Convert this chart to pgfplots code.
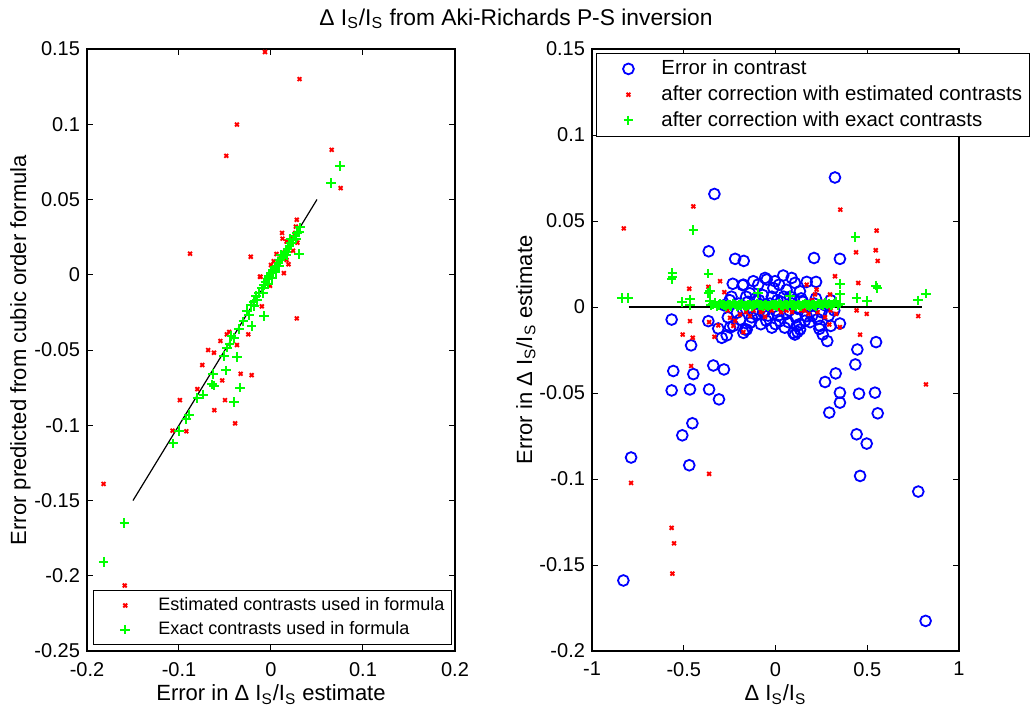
\documentclass[border=0pt]{standalone}
\usepackage{pgfplots}
\pgfplotsset{compat=1.18}
\usepackage{fontspec}
\setmainfont{Liberation Sans}
\begin{document}
\begin{tikzpicture}
\useasboundingbox (0,0) rectangle (516pt,359.5pt);
\pgfplotsset{
  every axis/.append style={
    scale only axis,
    height=301pt,
    tick label style={font=\fontsize{10}{11}\selectfont},
    xticklabel style={yshift=-2pt},
    label style={font=\fontsize{11}{13}\selectfont},
    xlabel style={yshift=2.5pt},
    tick style={black, line width=0.5pt},
    major tick length=3pt,
    axis line style={line width=0.6pt},
    legend style={draw=black, fill=white, cells={anchor=west}, row sep=0pt, inner sep=1.5pt},
    legend cell align=left,
  },
  redx/.style={only marks, mark=x, mark size=1.35pt, color=red, line width=0.95pt},
  greenp/.style={only marks, mark=+, mark size=2.4pt, color={rgb,255:red,0;green,255;blue,0}, line width=1pt},
  blueo/.style={only marks, mark=o, mark size=2.7pt, color=blue, line width=0.9pt},
}
\node[font=\fontsize{11.4}{13}\selectfont] at (258pt,350pt) {Δ I\textsubscript{S}/I\textsubscript{S} from Aki-Richards P-S inversion};

% ---------------- left axis ----------------
\begin{axis}[
  at={(43.5pt,34pt)}, anchor=south west,
  width=184pt,
  xmin=-0.2, xmax=0.2, ymin=-0.25, ymax=0.15,
  xtick={-0.2,-0.1,0,0.1,0.2},
  xticklabels={-0.2,-0.1,0,0.1,0.2},
  ytick={-0.25,-0.2,-0.15,-0.1,-0.05,0,0.05,0.1,0.15},
  yticklabels={-0.25,-0.2,-0.15,-0.1,-0.05,0,0.05,0.1,0.15},
  xlabel={Error in Δ I\textsubscript{S}/I\textsubscript{S} estimate},
  ylabel={Error predicted from cubic order formula},
  ylabel style={yshift=-5pt},
  legend style={at={(0.016,0.01)}, anchor=south west, font=\fontsize{9}{10.5}\selectfont},
  legend image code/.code={\path (0pt,0pt) (28pt,0pt); \draw[#1] plot coordinates {(14pt,0pt)};},
]
\addplot[redx] coordinates {
(-0.0065,0.148) (0.031,0.130) (-0.037,0.0998) (-0.0486,0.079) (0.066,0.083) (0.0757,0.0576)
(0.028,0.0365) (0.027,0.032) (0.0265,0.0278) (0.012,0.0278) (0.0125,0.024) (0.017,0.022)
(0.0287,0.0213) (-0.088,0.014) (-0.022,0.012) (0.017,0.0098) (0.014,0.0011) (0.028,-0.029)
(-0.0113,-0.0013) (-0.001,-0.0073) (-0.010,-0.021) (-0.0247,-0.0396) (-0.037,-0.0467)
(-0.0455,-0.038) (-0.048,-0.0396) (-0.055,-0.044) (-0.0683,-0.050) (-0.062,-0.0518)
(-0.0747,-0.060) (-0.033,-0.0658) (-0.021,-0.0667) (-0.053,-0.0702) (-0.080,-0.076)
(-0.099,-0.0833) (-0.050,-0.0833) (-0.0616,-0.090) (-0.039,-0.0987) (-0.107,-0.1036)
(-0.092,-0.104) (-0.182,-0.139) (-0.159,-0.2065)
(0.0,0.0065) (-0.012,-0.0013) (0.006,0.0138) (0.019,0.007) (0.010,0.012) (0.020,0.018)
(0.015,0.015) (0.005,0.004) (0.022,0.025) (0.003,0.009) (0.024,0.016)
};
\addlegendentry{Estimated contrasts used in formula}
\addplot[greenp] coordinates {
(0.0747,0.0722) (0.065,0.061) (0.0304,0.0138) (0.0308,0.0285) (-0.0076,-0.0273)
(-0.021,-0.034) (-0.037,-0.0547) (-0.049,-0.0636) (-0.062,-0.0736) (-0.0337,-0.075)
(-0.040,-0.0847) (-0.0735,-0.0796) (-0.089,-0.0929) (-0.100,-0.104) (-0.106,-0.112)
(-0.1594,-0.165) (-0.182,-0.1907)
(-0.043,-0.0407) (-0.048,-0.0484) (-0.051,-0.054) (-0.063,-0.066) (-0.064,-0.0729)
(-0.080,-0.082) (-0.092,-0.096) (-0.040,-0.042) (-0.045,-0.046)
(-0.026,-0.024) (-0.022,-0.020) (-0.019,-0.018) (-0.016,-0.014) (-0.013,-0.012)
(-0.010,-0.009) (-0.008,-0.007) (-0.006,-0.005) (-0.004,-0.003) (-0.002,-0.001)
(0.000,0.001) (0.002,0.003) (0.004,0.005) (0.006,0.006) (0.008,0.008) (0.010,0.010)
(0.012,0.011) (0.014,0.013) (0.016,0.015) (0.018,0.017) (0.020,0.019) (0.022,0.021)
(0.024,0.023) (0.026,0.026) (0.028,0.028) (0.0315,0.0315) (-0.015,-0.017) (0.005,0.002)
(-0.003,-0.006) (0.011,0.013) (-0.024,-0.027) (-0.018,-0.021) (-0.009,-0.012) (0.001,-0.002)
(0.009,0.006) (0.017,0.013) (0.021,0.024) (0.027,0.024) (-0.030,-0.031) (-0.035,-0.036)
};
\addlegendentry{Exact contrasts used in formula}
\addplot[black, line width=0.6pt, forget plot] coordinates {(-0.15,-0.15) (0.05,0.05)};
\end{axis}

% ---------------- right axis ----------------
\begin{axis}[
  at={(296pt,34pt)}, anchor=south west,
  width=183.5pt,
  xmin=-1, xmax=1, ymin=-0.2, ymax=0.15,
  xtick={-1,-0.5,0,0.5,1},
  xticklabels={-1,-0.5,0,0.5,1},
  ytick={-0.2,-0.15,-0.1,-0.05,0,0.05,0.1,0.15},
  yticklabels={-0.2,-0.15,-0.1,-0.05,0,0.05,0.1,0.15},
  xlabel={Δ I\textsubscript{S}/I\textsubscript{S}},
  ylabel={Error in Δ I\textsubscript{S}/I\textsubscript{S} estimate},
  ylabel style={yshift=-5pt},
  legend style={at={(0.011,0.994)}, anchor=north west, font=\fontsize{10.2}{12}\selectfont},
  legend image code/.code={\path (0pt,0pt) (28pt,0pt); \draw[#1] plot coordinates {(14pt,0pt)};},
]
\addplot[blueo] coordinates {
(-0.333,0.0657) (-0.364,0.0324) (-0.22,0.028) (-0.173,0.0268) (0.324,0.0753) (0.21,0.0285)
(0.351,0.028) (-0.233,0.0135) (-0.179,0.0127) (-0.566,-0.0073) (-0.366,-0.0082)
(-0.312,-0.0125) (-0.46,-0.0223) (-0.557,-0.0372) (-0.448,-0.039) (-0.339,-0.034)
(-0.281,-0.0363) (-0.566,-0.0485) (-0.466,-0.0479) (-0.362,-0.0479) (-0.308,-0.0537)
(-0.453,-0.0676) (-0.508,-0.0746) (-0.248,-0.0119) (-0.293,-0.0179) (-0.266,-0.0165)
(-0.193,-0.0073) (-0.166,-0.0131) (-0.787,-0.0875) (-0.47,-0.092) (-0.829,-0.159)
(0.497,-0.0794) (0.461,-0.0982) (0.778,-0.1073) (0.818,-0.1825) (0.548,-0.0204)
(0.446,-0.0247) (0.435,-0.0334) (0.328,-0.0386) (0.27,-0.0436) (0.351,-0.0498)
(0.455,-0.0504) (0.542,-0.0498) (0.351,-0.0556) (0.293,-0.0614) (0.557,-0.0618)
(0.442,-0.074) (0.282,-0.0198) (0.257,-0.016) (0.239,-0.0127) (0.351,-0.0096)
(0.301,-0.011) (0.188,-0.0088) (0.17,-0.0053) (0.134,-0.0131) (0.106,-0.016)
(0.12,-0.0145) (0.07,-0.0088) (-0.157,-0.0131) (-0.175,-0.015) (-0.139,-0.0092)
(0.042,0.0183) (0.088,0.0169) (-0.057,0.0169) (-0.003,0.015) (-0.121,0.015)
(-0.094,0.0131) (0.106,0.014) (0.17,0.0146) (0.221,0.0146) (-0.175,0.013) (0.133,0.0092)
(-0.012,0.011) (0.02,0.013) (-0.14,0.008) (0.06,0.01) (-0.048,0.016)
(-0.15,0.003) (-0.12,-0.002) (-0.09,0.004) (-0.06,-0.003) (-0.03,0.002) (0.0,-0.002)
(0.03,0.003) (0.06,-0.004) (0.09,0.002) (0.12,-0.001) (0.15,0.003) (0.18,0.0)
(0.21,0.002) (0.25,-0.003) (-0.2,0.002) (-0.211,-0.0034) (-0.05,-0.008) (-0.08,-0.01)
(0.0,-0.01) (0.025,-0.0082) (-0.068,-0.003) (0.115,-0.011) (0.097,-0.015) (0.243,-0.011)
(-0.23,-0.011) (-0.25,0.004)
(-0.28,0.001) (-0.26,-0.006) (-0.24,0.006) (-0.18,-0.001) (-0.16,0.006) (-0.13,-0.006)
(-0.11,0.005) (-0.10,-0.004) (-0.07,0.007) (-0.04,-0.005) (-0.02,0.006) (0.01,0.004)
(0.015,-0.005) (0.045,0.006) (0.075,-0.002) (0.08,0.006) (0.10,0.004) (0.11,-0.006)
(0.14,0.005) (0.16,-0.008) (0.20,-0.005) (0.22,0.005) (0.23,-0.007) (0.27,0.001)
(0.29,-0.005) (0.30,0.004) (0.32,-0.002) (0.05,-0.012) (-0.02,-0.012) (0.13,-0.01)
};
\addlegendentry{Error in contrast}
\addplot[redx] coordinates {
(-0.827,0.0457) (-0.448,0.0585) (0.353,0.0566) (0.551,0.0444) (0.439,0.0318) (0.546,0.033)
(0.557,0.0268) (-0.47,0.0106) (-0.366,0.0117) (-0.302,0.015) (-0.279,0.0086)
(-0.466,-0.0082) (-0.506,-0.016) (-0.451,-0.0179) (-0.362,-0.0088) (-0.312,-0.0107)
(-0.333,-0.0173) (-0.46,-0.0343) (-0.248,-0.0063) (-0.22,-0.008) (-0.23,-0.011)
(-0.193,-0.0044) (-0.175,-0.0146) (-0.139,-0.0053) (-0.12,-0.002) (-0.1,0.002)
(-0.08,-0.003) (-0.057,-0.0057) (-0.04,0.001) (-0.02,-0.002) (0.0,0.0015) (0.02,-0.001)
(0.04,0.002) (0.06,-0.002) (0.08,0.001) (0.1,-0.001) (0.12,0.002) (0.14,-0.002)
(0.17,0.013) (0.215,0.0073) (0.224,0.0101) (0.2,0.004) (0.25,0.003) (0.27,-0.0059)
(0.293,-0.0102) (0.297,0.0073) (0.324,0.0179) (0.33,-0.004) (0.351,-0.0117)
(0.442,-0.002) (0.451,0.014) (0.461,-0.0161) (0.497,-0.004) (0.778,-0.0053) (0.82,-0.045)
(-0.787,-0.1023) (-0.362,-0.097) (-0.566,-0.1284) (-0.553,-0.1374) (-0.562,-0.155)
(-0.26,-0.002) (-0.16,-0.003) (-0.07,-0.002) (0.03,-0.003) (0.09,-0.003) (0.16,-0.002)
(0.18,-0.004) (0.23,-0.003) (0.30,-0.002) (0.32,0.002)
};
\addlegendentry{after correction with estimated contrasts}
\addplot[greenp] coordinates {
(-0.838,0.0053) (-0.802,0.0053) (-0.566,0.016) (-0.562,0.0198) (-0.562,0.0175)
(-0.511,0.0028) (-0.466,0.0044) (-0.466,0.001) (-0.448,0.0448) (-0.366,0.0194)
(-0.366,0.008) (-0.357,0.0034) (-0.357,0.0092) (-0.35,0.001) (-0.33,0.0025) (-0.31,0.001)
(-0.29,0.0015) (-0.27,0.0005) (-0.25,0.001) (-0.23,0.002) (-0.21,0.0005) (-0.19,0.0012)
(-0.17,0.0008) (-0.15,0.001) (-0.13,0.0005) (-0.11,0.0015) (-0.094,0.008) (-0.09,0.001)
(-0.07,0.0005) (-0.05,0.001) (-0.03,0.0008) (-0.01,0.0012) (0.01,0.0005) (0.03,0.001)
(0.05,0.0015) (0.07,0.0008) (0.079,0.0063) (0.09,0.0012) (0.11,0.0005) (0.13,0.001)
(0.15,0.0015) (0.17,0.001) (0.19,0.0005) (0.21,0.0012) (0.23,0.002) (0.25,0.0015)
(0.27,0.0025) (0.29,0.002) (0.31,0.0015) (0.33,0.003) (0.351,0.0135) (0.351,0.0073)
(0.35,0.002) (0.442,0.0053) (0.497,0.0034) (0.548,0.0125) (0.555,0.011) (0.778,0.0039)
(0.82,0.0078) (0.435,0.0407)
(-0.34,0.0015) (-0.32,0.0005) (-0.30,0.002) (-0.28,0.001) (-0.26,0.0015) (-0.24,0.0005)
(-0.22,0.0015) (-0.20,0.001) (-0.18,0.002) (-0.16,0.0005) (-0.14,0.0015) (-0.12,0.001)
(-0.10,0.002) (-0.08,0.001) (-0.06,0.0015) (-0.04,0.0005) (-0.02,0.0015) (0.0,0.001)
(0.02,0.002) (0.04,0.0005) (0.06,0.001) (0.08,0.002) (0.10,0.001) (0.12,0.0015)
(0.14,0.0005) (0.16,0.002) (0.18,0.001) (0.20,0.0015) (0.22,0.0005) (0.24,0.002)
(0.26,0.001) (0.28,0.0015) (0.30,0.001) (0.32,0.002) (0.34,0.001)
};
\addlegendentry{after correction with exact contrasts}
\addplot[black, line width=1.1pt, forget plot] coordinates {(-0.8,0) (0.8,0)};
\end{axis}
\end{tikzpicture}
\end{document}
